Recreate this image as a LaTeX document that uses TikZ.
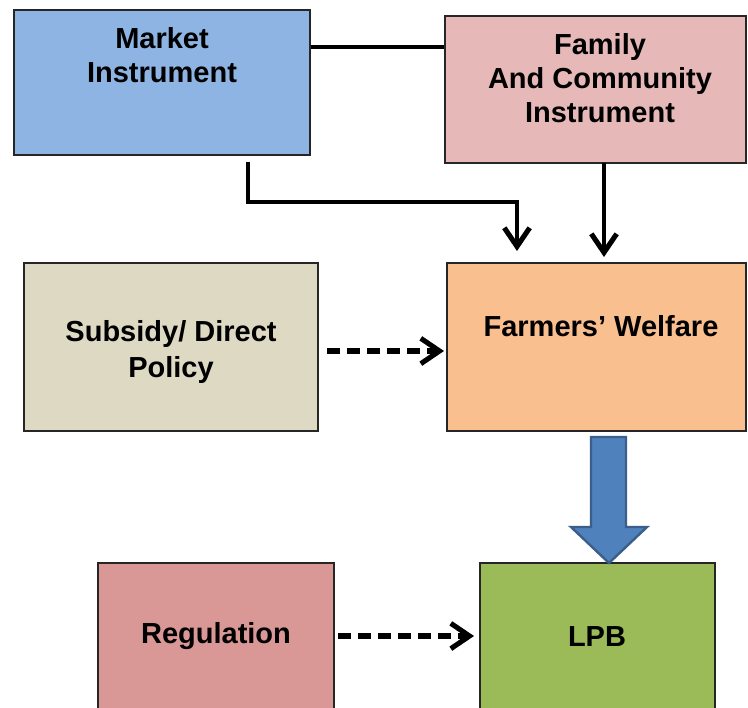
\documentclass[tikz,border=0pt]{standalone}
\usepackage{fontspec}
\setmainfont{Liberation Sans}
\usetikzlibrary{arrows.meta}
\definecolor{cmarket}{HTML}{8EB4E3}
\definecolor{cfamily}{HTML}{E6B9B8}
\definecolor{csubsidy}{HTML}{DDD9C3}
\definecolor{cfarmers}{HTML}{F9BF8F}
\definecolor{cregul}{HTML}{D99795}
\definecolor{clpb}{HTML}{9BBB59}
\definecolor{cblue}{HTML}{4F81BD}
\definecolor{cblueline}{HTML}{3A5F8B}
\begin{document}
\begin{tikzpicture}[x=0.75pt,y=-0.75pt,
  box/.style={draw=black!85,line width=1.1pt,rectangle,inner sep=0pt},
  lbl/.style={align=center,font=\bfseries\fontsize{21.75}{25.5}\selectfont,inner sep=0pt},
  conn/.style={line width=3.2pt,black},
  tip/.style={-{Straight Barb[length=14pt,width=19pt,line width=3.8pt]}},
  dashline/.style={line width=3.8pt,dash pattern=on 10pt off 5pt}]
\useasboundingbox (0,0) rectangle (748,707);
\clip (0,0) rectangle (748,707);
\fill[white] (0,0) rectangle (748,707);
% boxes
\node[box,fill=cmarket,minimum width=222pt,minimum height=108.75pt] (market) at (162,82.5) {};
\node[box,fill=cfamily,minimum width=225.75pt,minimum height=110.25pt] (family) at (595.5,89.5) {};
\node[box,fill=csubsidy,minimum width=220.5pt,minimum height=126pt] (subsidy) at (171,347) {};
\node[box,fill=cfarmers,minimum width=224.25pt,minimum height=126pt] (farmers) at (596.5,347) {};
\node[box,fill=cregul,minimum width=177pt,minimum height=117.75pt] (regul) at (216,641.5) {};
\node[box,fill=clpb,minimum width=176.25pt,minimum height=117.75pt] (lpb) at (597.5,641.5) {};
% labels
\node[lbl] (tmarket) at (162,55) {Market\\Instrument};
\node[lbl] (tfamily) at (600,78) {Family\\And Community\\Instrument};
\node[lbl,font=\bfseries\fontsize{21.75}{27}\selectfont] (tsubsidy) at (171,352) {Subsidy/ Direct\\Policy};
\node[lbl] (tfarmers) at (601,326) {Farmers’ Welfare};
\node[lbl] (tregul) at (216,636) {Regulation};
\node[lbl] (tlpb) at (597,637) {LPB};
% connectors
\coordinate (y47) at (0,47);
\draw[conn] (market.east |- y47) -- (family.west |- y47);
\coordinate (m1) at (248,162);
\coordinate (m2) at (517,202);
\coordinate (m3) at (517,251);
\draw[conn,tip] (m1) |- (m2) -- (m3);
\coordinate (f1) at (604,163);
\coordinate (f2) at (604,257);
\draw[conn,tip] (f1) -- (f2);
\coordinate (s1) at (327,351);
\coordinate (s2) at (444,351);
\draw[conn,dashline,tip] (s1) -- (s2);
\coordinate (r1) at (338,636);
\coordinate (r2) at (474,636);
\draw[conn,dashline,tip] (r1) -- (r2);
% big blue arrow
\draw[fill=cblue,draw=cblueline,line width=1.8pt,line join=miter]
  (591,437) -- (626,437) -- (626,527) -- (647,527) -- (609,563) -- (571,527) -- (591,527) -- cycle;
\end{tikzpicture}
\end{document}
